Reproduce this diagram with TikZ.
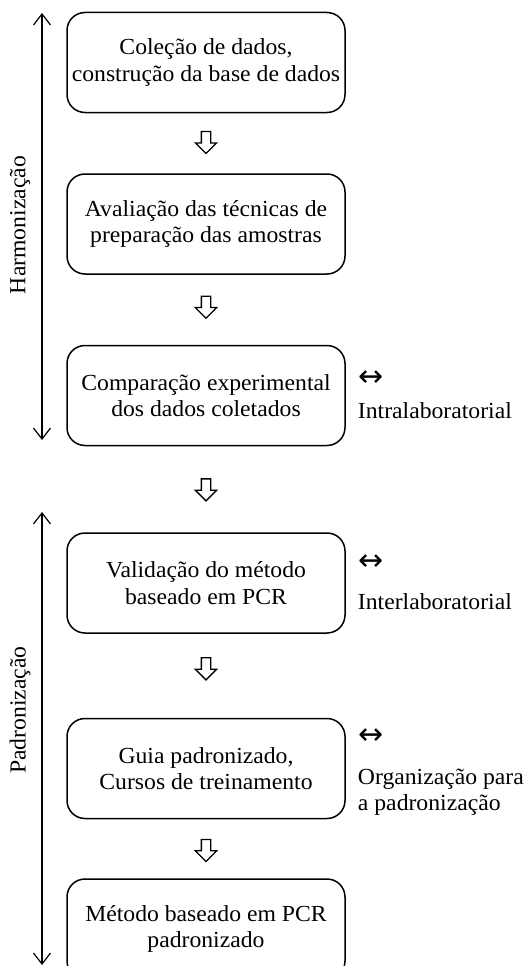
\documentclass[tikz,border=0pt]{standalone}
\usepackage{fontspec}
\setmainfont[FakeStretch=1.03]{Liberation Serif}
\newfontfamily\symfont{DejaVu Sans}
\usetikzlibrary{arrows.meta,positioning,calc,shapes.arrows}

\begin{document}
\begin{tikzpicture}[
  x=1pt, y=-1pt,
  font=\fontsize{23}{26.5}\selectfont,
  box/.style={draw, line width=1.5pt, rounded corners=18pt, align=center, minimum width=278pt, minimum height=100pt, inner sep=0pt},
  downarr/.style={single arrow, draw, line width=1.3pt, rotate=-90, minimum height=22pt, inner sep=4pt, single arrow head extend=6pt},
  side/.style={anchor=west, align=left, inner sep=0pt, font=\fontsize{23}{26}\selectfont},
  lr/.style={anchor=west, inner sep=0pt, font=\symfont\fontsize{30}{30}\selectfont},
  >={Straight Barb[length=11pt, width=17pt]}
]
  \useasboundingbox (0,0) rectangle (525,966);
  \node[box] (b1) at (206,62.5) {Coleção de dados,\\construção da base de dados};
  \node[box, below=60pt of b1] (b2) {Avaliação das técnicas de\\preparação das amostras};
  \node[box, below=70pt of b2] (b3) {Comparação experimental\\dos dados coletados};
  \node[box, below=86pt of b3] (b4) {Validação do método\\baseado em PCR};
  \node[box, below=84pt of b4] (b5) {Guia padronizado,\\Cursos de treinamento};
  \node[box, below=59pt of b5] (b6) {Método baseado em PCR\\padronizado};

  \node[downarr] (a1) at ($(b1.south)!.45!(b2.north)$) {};
  \node[downarr] (a2) at ($(b2.south)!.43!(b3.north)$) {};
  \node[downarr] (a3) at ($(b3.south)!.48!(b4.north)$) {};
  \node[downarr] (a4) at ($(b4.south)!.39!(b5.north)$) {};
  \node[downarr] (a5) at ($(b5.south)!.49!(b6.north)$) {};

  % sides
  \node[lr] (r3) at ($(b3.east)+(13,-17)$) {↔};
  \node[side] (t3) at ($(b3.east)+(12,15)$) {Intralaboratorial};
  \node[lr] (r4) at ($(b4.east)+(13,-20)$) {↔};
  \node[side] (t4) at ($(b4.east)+(12,19)$) {Interlaboratorial};
  \node[lr] (r5) at ($(b5.east)+(13,-32)$) {↔};
  \node[side] (t5) at ($(b5.east)+(12,24)$) {Organização para\\a padronização};

  % phases
  \coordinate (h1) at (42,13);
  \coordinate (h2) at (42,440);
  \coordinate (p1) at (42,512);
  \coordinate (p2) at (42,965);
  \draw[<->, line width=1.2pt] (h1) -- (h2);
  \draw[<->, line width=1.2pt] (p1) -- (p2);
  \node[rotate=90] (harm) at (20,225) {Harmonização};
  \node[rotate=90] (padr) at (20,710) {Padronização};
\end{tikzpicture}
\end{document}
